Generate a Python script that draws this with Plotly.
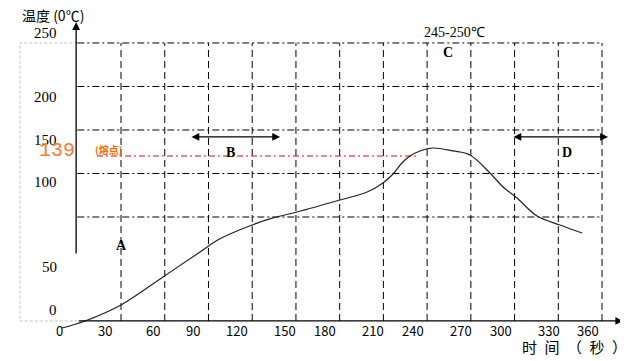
import plotly.graph_objects as go

# ---- data ----
time_s = [-10.5, 5.3, 30.0, 58.8, 84.2, 97.9, 119.9, 134.3, 150.7, 180.2, 198.8, 209.7,
          216.6, 222.7, 228.2, 235.1, 244.0, 257.7, 269.4, 283.1, 292.1, 301.7, 315.4,
          331.2, 346.3]
temp_c = [-77.6, -69.5, -51.1, -18.9, 9.8, 24.9, 40.8, 48.9, 55.7, 69.5, 78.7, 89.1,
          99.4, 112.1, 120.1, 125.9, 129.3, 125.9, 121.3, 100.6, 84.5, 71.8, 51.1,
          40.8, 31.6]

grid_x = [30, 60, 90, 120, 150, 180, 210, 240, 270, 300, 330, 360]
grid_y = [50, 100, 150, 200, 250]
baseline = -69.5

x_tick_labels = ["0", "30", "60", "90", "120", "150", "180", "210", "240", "270", "300", "330", "360"]
x_tick_pos = [-11.9, 19.0, 51.9, 79.4, 109.6, 142.5, 169.9, 202.9, 230.3, 263.2, 290.7, 323.6, 350.4]
y_tick_labels = ["250", "200", "150", "100", "50", "0"]
y_tick_pos = [261.5, 187.9, 138.5, 90.2, -7.5, -57.0]

melt_value = 120.1
melt_span = [13.5, 233.7]
arrow_b = [77.3, 139.1]
arrow_d = [298.2, 364.1]
arrow_level = 142.0

# the page shows the figure 8px in from the top-left corner; ranges compensate for that
X_RANGE = [-47.54, 383.3]
Y_RANGE = [-124.7, 290.2]

fig = go.Figure()

# horizontal grid (dash-dot)
hx, hy = [], []
for g in grid_y:
    hx += [0, grid_x[-1], None]
    hy += [g, g, None]
fig.add_trace(go.Scatter(x=hx, y=hy, mode="lines", hoverinfo="skip",
                         line=dict(color="black", width=1, dash="7px,3px,2px,3px")))
# vertical grid (dashed)
vx, vy = [], []
for g in grid_x:
    vx += [g, g, None]
    vy += [baseline, grid_y[-1], None]
fig.add_trace(go.Scatter(x=vx, y=vy, mode="lines", hoverinfo="skip",
                         line=dict(color="black", width=1, dash="7px,4px")))
# light grey dotted box on the left
fig.add_trace(go.Scatter(x=[0, -39.3, -39.3, 0], y=[grid_y[-1], grid_y[-1], baseline, baseline],
                         mode="lines", hoverinfo="skip",
                         line=dict(color="#c4c4c4", width=1, dash="3px,2px")))
# melting point line
fig.add_trace(go.Scatter(x=melt_span, y=[melt_value, melt_value], mode="lines", hoverinfo="skip",
                         line=dict(color="#ff0000", width=1, dash="6px,3px,2px,3px")))
# temperature curve
fig.add_trace(go.Scatter(x=time_s, y=temp_c, mode="lines", hoverinfo="skip",
                         line=dict(color="#222222", width=1.2, shape="spline", smoothing=1.0)))

ann = []
# axes arrows
ann.append(dict(x=-0.8, y=274, ax=-0.8, ay=6.3, xref="x", yref="y", axref="x", ayref="y",
                showarrow=True, arrowhead=2, arrowsize=1.2, arrowwidth=1.3, arrowcolor="black", text=""))
ann.append(dict(x=374.5, y=baseline, ax=0, ay=baseline, xref="x", yref="y", axref="x", ayref="y",
                showarrow=True, arrowhead=2, arrowsize=1.2, arrowwidth=1.3, arrowcolor="black", text=""))
# B and D double arrows
for span in (arrow_b, arrow_d):
    ann.append(dict(x=span[1], y=arrow_level, ax=span[0], ay=arrow_level, xref="x", yref="y",
                    axref="x", ayref="y", showarrow=True, arrowhead=2, arrowside="end+start",
                    arrowsize=1.2, arrowwidth=1.3, arrowcolor="black", text=""))

serif_b = dict(family="Liberation Serif", size=14, color="black")
for txt, x, y in [("A", 30, 17.8), ("B", 104.8, 123.6), ("C", 254.3, 238.5), ("D", 336, 123.6)]:
    ann.append(dict(x=x, y=y, xref="x", yref="y", text="<b>%s</b>" % txt, showarrow=False, font=serif_b))
ann.append(dict(x=258.5, y=261.5, xref="x", yref="y", text="245-250℃", showarrow=False,
                font=dict(family="Liberation Serif", size=14, color="black")))

# tick labels
for t, x in zip(x_tick_labels, x_tick_pos):
    ann.append(dict(x=x, y=-81, xref="x", yref="y", text=t, showarrow=False,
                    font=dict(family="Noto Sans CJK SC", size=13, color="black")))
for t, y in zip(y_tick_labels, y_tick_pos):
    ann.append(dict(x=-12.5, y=y, xref="x", yref="y", text=t, showarrow=False, xanchor="right",
                    font=dict(family="Liberation Serif", size=15, color="black")))

# melting point labels
ann.append(dict(x=-14, y=127, xref="x", yref="y", text="139", showarrow=False,
                font=dict(family="Liberation Mono", size=20, color="#ff7a2a")))
ann.append(dict(x=21.5, y=128, xref="x", yref="y", text="<b>(熔点)</b>", showarrow=False,
                font=dict(family="Noto Sans CJK SC", size=10, color="#ff6a00")))

# axis titles
ann.append(dict(x=-39.5, y=281.6, xref="x", yref="y", text="温度 (0℃)", showarrow=False, xanchor="left",
                font=dict(family="Noto Sans CJK SC", size=14, color="black")))
ann.append(dict(x=304, y=-99, xref="x", yref="y", text="时\u2002间\u2002（\u2002秒\u2002）",
                showarrow=False, xanchor="left",
                font=dict(family="Noto Sans CJK SC", size=15, color="black")))

fig.update_layout(
    width=628, height=361,
    margin=dict(l=0, r=0, t=0, b=0),
    paper_bgcolor="white", plot_bgcolor="white",
    showlegend=False,
    xaxis=dict(range=X_RANGE, visible=False, fixedrange=True),
    yaxis=dict(range=Y_RANGE, visible=False, fixedrange=True),
    annotations=ann,
)

fig.write_html("out.html")
